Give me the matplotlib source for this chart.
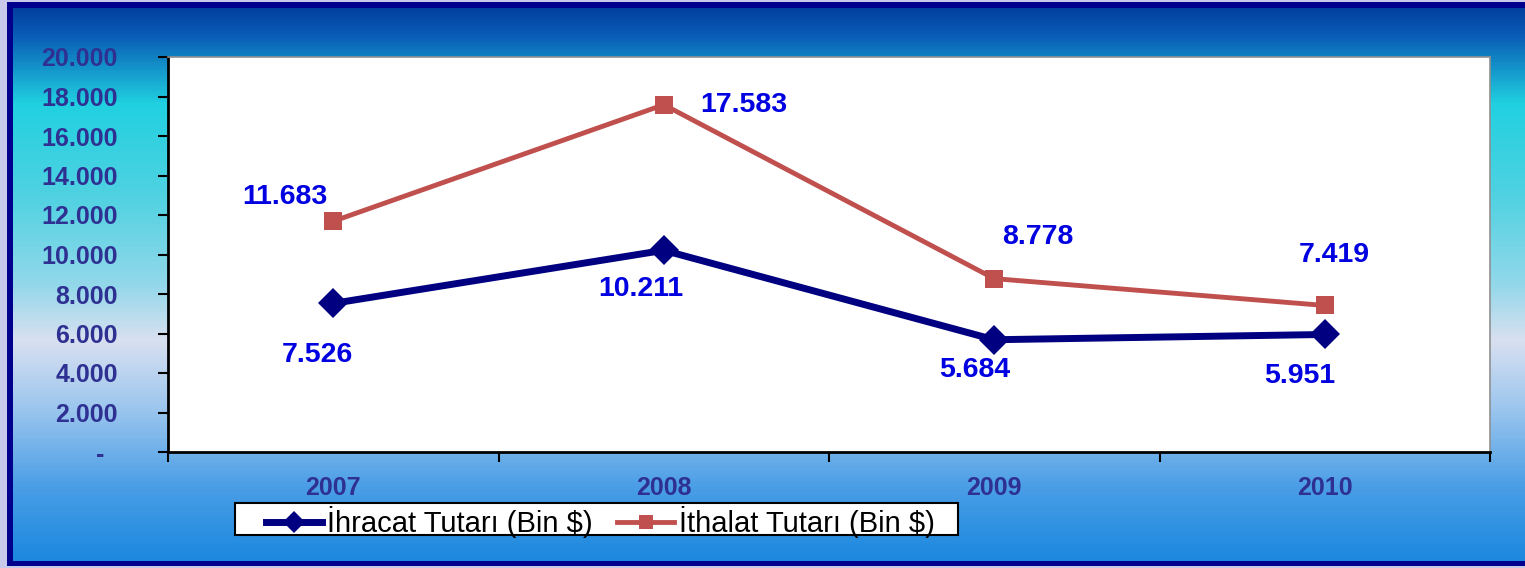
import matplotlib
matplotlib.use("Agg")
import matplotlib.pyplot as plt
import numpy as np
from matplotlib.colors import LinearSegmentedColormap
from matplotlib.patches import Rectangle
from matplotlib.ticker import FixedLocator, FuncFormatter

# ---- data ----
years = ["2007", "2008", "2009", "2010"]
ihracat = [7526, 10211, 5684, 5951]
ithalat = [11683, 17583, 8778, 7419]
ihracat_label = "İhracat Tutarı (Bin $)"
ithalat_label = "İthalat Tutarı (Bin $)"
y_ticks = [0, 2000, 4000, 6000, 8000, 10000, 12000, 14000, 16000, 18000, 20000]

# label offsets (pixels) – layout only
ihr_off = [(-16, -52), (-23, -39), (-20, -30), (-25, -42)]
ith_off = [(-48, 24), (80, 0), (44, 42), (10, 50)]

W, H = 1525, 568
plt.rcParams['font.family'] = ['Liberation Sans', 'DejaVu Sans']
fig = plt.figure(figsize=(W / 100, H / 100), dpi=100)

# ---- background gradient ----
bg = fig.add_axes([0, 0, 1, 1], zorder=-10)
bg.set_axis_off()
stops = [
    (0.00, "#003a9a"),
    (0.06, "#0a5cb6"),
    (0.18, "#20d0e0"),
    (0.35, "#52d2e2"),
    (0.50, "#92d8ea"),
    (0.60, "#d8e0f0"),
    (0.72, "#9cc6ee"),
    (0.86, "#4a9ee6"),
    (1.00, "#1886de"),
]
cmap = LinearSegmentedColormap.from_list("bg", stops)
grad = np.linspace(0, 1, 400).reshape(-1, 1)
bg.imshow(grad, aspect="auto", cmap=cmap, extent=[0, W, H, 0])
bg.set_xlim(0, W)
bg.set_ylim(H, 0)
lav = "#c8c8ea"
navy = "#00008c"
bg.add_patch(Rectangle((0, 0), W, 2, color=lav, lw=0))
bg.add_patch(Rectangle((0, 0), 7, H, color=lav, lw=0))
bg.add_patch(Rectangle((0, 566), W, 2, color=lav, lw=0))
bg.add_patch(Rectangle((7, 2), W - 7, 6, color=navy, lw=0))
bg.add_patch(Rectangle((7, 2), 6, 564, color=navy, lw=0))
bg.add_patch(Rectangle((7, 561), W - 7, 5, color=navy, lw=0))
# legend box
bg.add_patch(Rectangle((235, 503), 723, 32, facecolor="white",
                       edgecolor="black", lw=1.5, zorder=5))

# ---- main axes ----
ax = fig.add_axes([168 / W, 1 - 452 / H, (1490 - 168) / W, (452 - 57) / H])
ax.set_facecolor("white")
x = np.arange(len(years))

l1, = ax.plot(x, ihracat, color="#000080", lw=5, marker="D", markersize=15,
              markeredgewidth=0, label=ihracat_label, zorder=4)
l2, = ax.plot(x, ithalat, color="#c0504d", lw=3.5, marker="s", markersize=13,
              markeredgewidth=0, label=ithalat_label, zorder=3)

lab_col = "#0000e0"
for xi, v, off in zip(x, ihracat, ihr_off):
    ax.annotate(f"{v:,}".replace(",", "."), (xi, v), xytext=off,
                textcoords="offset pixels", ha="center", va="center",
                fontsize=20.5, fontweight="bold", color=lab_col)
for xi, v, off in zip(x, ithalat, ith_off):
    ax.annotate(f"{v:,}".replace(",", "."), (xi, v), xytext=off,
                textcoords="offset pixels", ha="center", va="center",
                fontsize=20.5, fontweight="bold", color=lab_col)

ax.set_xlim(-0.5, len(years) - 0.5)
ax.set_ylim(0, 20000)

tick_col = "#2e3192"
ax.yaxis.set_major_locator(FixedLocator(y_ticks))
ax.yaxis.set_major_formatter(FuncFormatter(
    lambda v, p: "-  " if v == 0 else f"{int(v):,}".replace(",", ".")))
ax.tick_params(axis="y", direction="out", length=7, width=1.5, pad=29,
               labelsize=18, labelcolor=tick_col, color="black")
for t in ax.get_yticklabels():
    t.set_fontweight("bold")

ax.set_xticks(np.arange(-0.5, len(years), 1.0))
ax.set_xticklabels([])
ax.set_xticks(x, minor=True)
ax.set_xticklabels(years, minor=True, fontweight="bold")
ax.tick_params(axis="x", which="major", direction="out", length=7, width=1.5,
               color="black")
ax.tick_params(axis="x", which="minor", length=0, pad=17, labelsize=18,
               labelcolor=tick_col)

for s in ["left", "bottom"]:
    ax.spines[s].set_color("black")
    ax.spines[s].set_linewidth(2)
for s in ["top", "right"]:
    ax.spines[s].set_color("#909090")
    ax.spines[s].set_linewidth(1.2)

leg = fig.legend(handles=[l1, l2], loc="center",
                 bbox_to_anchor=(600 / W, 1 - 522 / H), ncol=2,
                 fontsize=21, frameon=False, borderpad=0.05,
                 handlelength=1.95, handletextpad=0.15, columnspacing=0.85,
                 borderaxespad=0, markerscale=0.75)
leg.set_zorder(10)

fig.savefig("out.png", dpi=100)
